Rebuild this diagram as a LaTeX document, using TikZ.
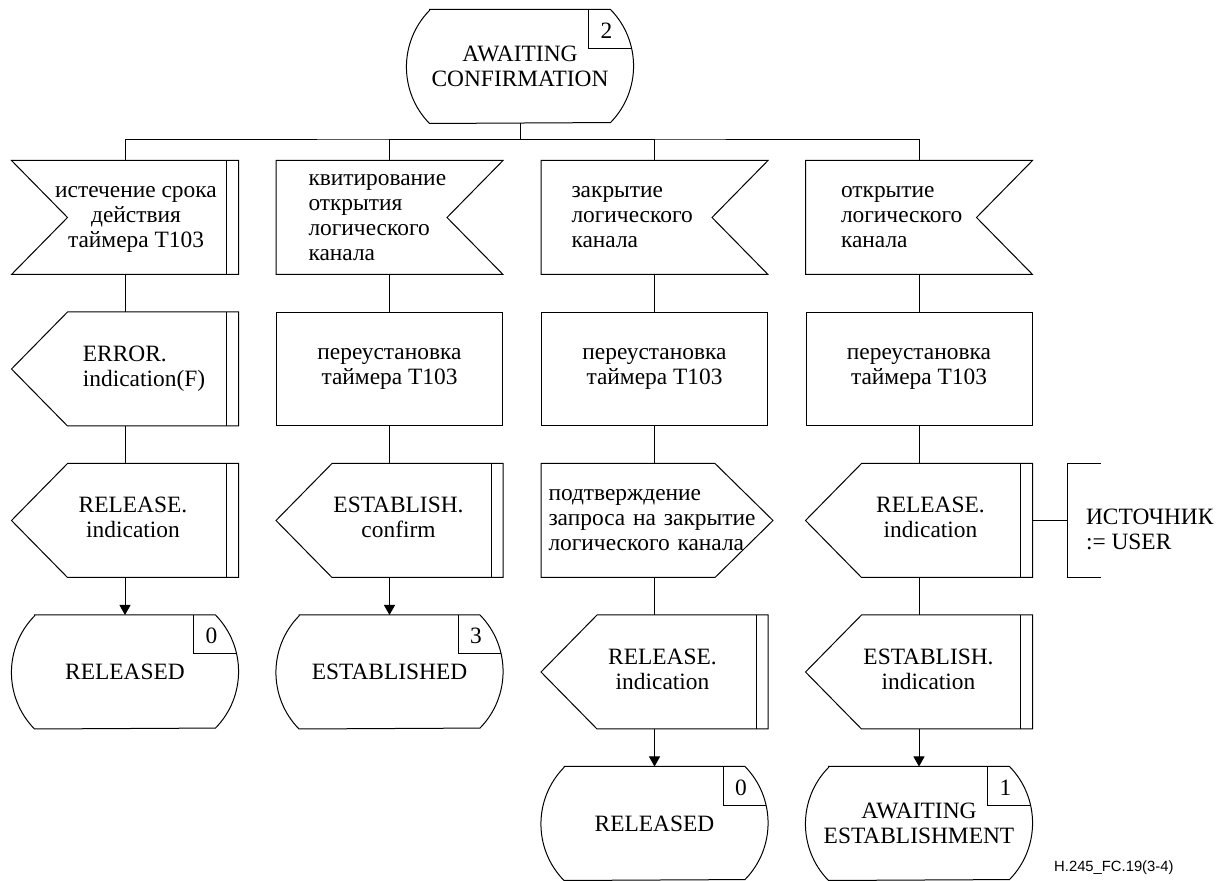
\documentclass[tikz,border=0pt]{standalone}
\usepackage{fontspec}
\setmainfont{Liberation Serif}
\newfontfamily\capfont{Liberation Sans}
\usetikzlibrary{arrows.meta,positioning}
% text block shifted right by #1, column type #2
\newcommand{\sdltext}[3]{\hspace*{#1}\begin{tabular}{@{}#2@{}}#3\end{tabular}}

\begin{document}
\begin{tikzpicture}[
  x=0.5pt,y=-0.5pt,line width=0.5pt,
  node distance=18.75pt,
  blk/.style={minimum width=113pt,minimum height=56.5pt,inner sep=0pt,
    font=\fontsize{11.7}{12.5}\selectfont},
  inl/.style={blk,text width=#1,align=left},
  inl/.default=81pt,
  task/.style={blk,draw,align=center},
  num/.style={inner sep=0pt,font=\fontsize{11.7}{12.5}\selectfont},
  flow/.style={-{Triangle[length=5pt,width=5.5pt]}}
]
  \useasboundingbox (0,0) rectangle (1227,881);

  \node[blk,align=center] (awc) at (520,66.5) {AWAITING\\CONFIRMATION};

  % column 1
  \node[blk] (exp) at (125,217.5) {\sdltext{11pt}{c}{истечение срока\\действия\\таймера T103}};
  \node[blk,below=of exp] (errind) {\sdltext{19pt}{l}{ERROR.\\indication(F)}};
  \node[blk,below=of errind] (relind1) {\sdltext{8pt}{c}{RELEASE.\\indication}};
  \node[blk,align=center,below=of relind1] (released1) {RELEASED};

  % column 2
  \node[inl] (ack) at (389.5,217.5) {квитирование\\открытия\\логического\\канала};
  \node[task,below=of ack] (rst2) {переустановка\\таймера T103};
  \node[blk,below=of rst2] (estconf) {\sdltext{9pt}{c}{ESTABLISH.\\confirm}};
  \node[blk,align=center,below=of estconf] (established) {ESTABLISHED};

  % column 3
  \node[inl=83pt] (close) at (654.5,217.5) {закрытие\\логического\\канала};
  \node[task,below=of close] (rst3) {переустановка\\таймера T103};
  \node[inl=106pt,below=of rst3] (clconf) {подтверждение\\запроса~на~закрытие\\логического~канала};
  \node[blk,below=of clconf] (relind3) {\sdltext{8pt}{c}{RELEASE.\\indication}};
  \node[blk,align=center,below=of relind3] (released3) {RELEASED};

  % column 4
  \node[inl=78pt] (open) at (919,217.5) {открытие\\логического\\канала};
  \node[task,below=of open] (rst4) {переустановка\\таймера T103};
  \node[blk,below=of rst4] (relind4) {\sdltext{11.5pt}{c}{RELEASE.\\indication}};
  \node[blk,below=of relind4] (estind) {\sdltext{9.5pt}{c}{ESTABLISH.\\indication}};
  \node[blk,align=center,below=of estind] (awe) {AWAITING\\ESTABLISHMENT};

  \node[blk,minimum width=16pt,right=17.5pt of relind4] (src) {};
  \node[num,anchor=west,align=left] (srctxt) at ([xshift=9pt,yshift=-4.5pt]src.west) {ИСТОЧНИК\\:= USER};

  \node[anchor=east,inner sep=0pt,font=\capfont\fontsize{7.4}{9}\selectfont] (figid) at (1174,868) {H.245\_FC.19(3-4)};

  % state outlines
  \foreach \s/\k in {awc/2,released1/0,established/3,released3/0,awe/1}{
    \draw ([xshift=11.5pt]\s.north west) -- ([xshift=-11.5pt]\s.north east)
      arc[start angle=44.4,end angle=-44.4,radius=40.4pt]
      -- ([xshift=11.5pt]\s.south west)
      arc[start angle=224.4,end angle=135.6,radius=40.4pt] -- cycle;
    \draw ([xshift=-22.5pt]\s.north east) |- ([xshift=-1pt,yshift=-19.5pt]\s.north east);
    \node[num] (\s-k) at ([xshift=-13.5pt,yshift=-10.5pt]\s.north east) {\k};
  }
  % inputs
  \foreach \n in {ack,close,open}
    \draw (\n.north west) -- (\n.north east) -- ([xshift=-28pt]\n.east)
      -- (\n.south east) -- (\n.south west) -- cycle;
  \draw (exp.north west) -- (exp.north east) -- (exp.south east)
    -- (exp.south west) -- ([xshift=28pt]exp.west) -- cycle;
  \draw ([xshift=-6pt]exp.north east) -- ([xshift=-6pt]exp.south east);
  % outputs
  \foreach \n in {errind,relind1,estconf,relind3,relind4,estind}{
    \draw (\n.west) -- ([xshift=28pt]\n.north west) -- (\n.north east)
      -- (\n.south east) -- ([xshift=28pt]\n.south west) -- cycle;
    \draw ([xshift=-6pt]\n.north east) -- ([xshift=-6pt]\n.south east);
  }
  \draw (clconf.north west) -- ([xshift=-26.5pt]clconf.north east) -- ([xshift=2.5pt]clconf.east)
    -- ([xshift=-26.5pt]clconf.south east) -- (clconf.south west) -- cycle;
  % comment bracket
  \draw (src.north east) -- (src.north west) -- (src.south west) -- (src.south east);

  % connectors
  \coordinate (bus) at (520,140);
  \draw (awc.south) -- (bus);
  \draw (exp.north) |- (bus) -| (open.north);
  \draw (ack.north) |- (bus) (close.north) |- (bus);
  \draw (exp) -- (errind) (errind) -- (relind1);
  \draw[flow] (relind1) -- (released1);
  \draw (ack) -- (rst2) (rst2) -- (estconf);
  \draw[flow] (estconf) -- (established);
  \draw (close) -- (rst3) (rst3) -- (clconf) (clconf) -- (relind3);
  \draw[flow] (relind3) -- (released3);
  \draw (open) -- (rst4) (rst4) -- (relind4) (relind4) -- (estind);
  \draw[flow] (estind) -- (awe);
  \draw (relind4) -- (src);
\end{tikzpicture}
\end{document}
